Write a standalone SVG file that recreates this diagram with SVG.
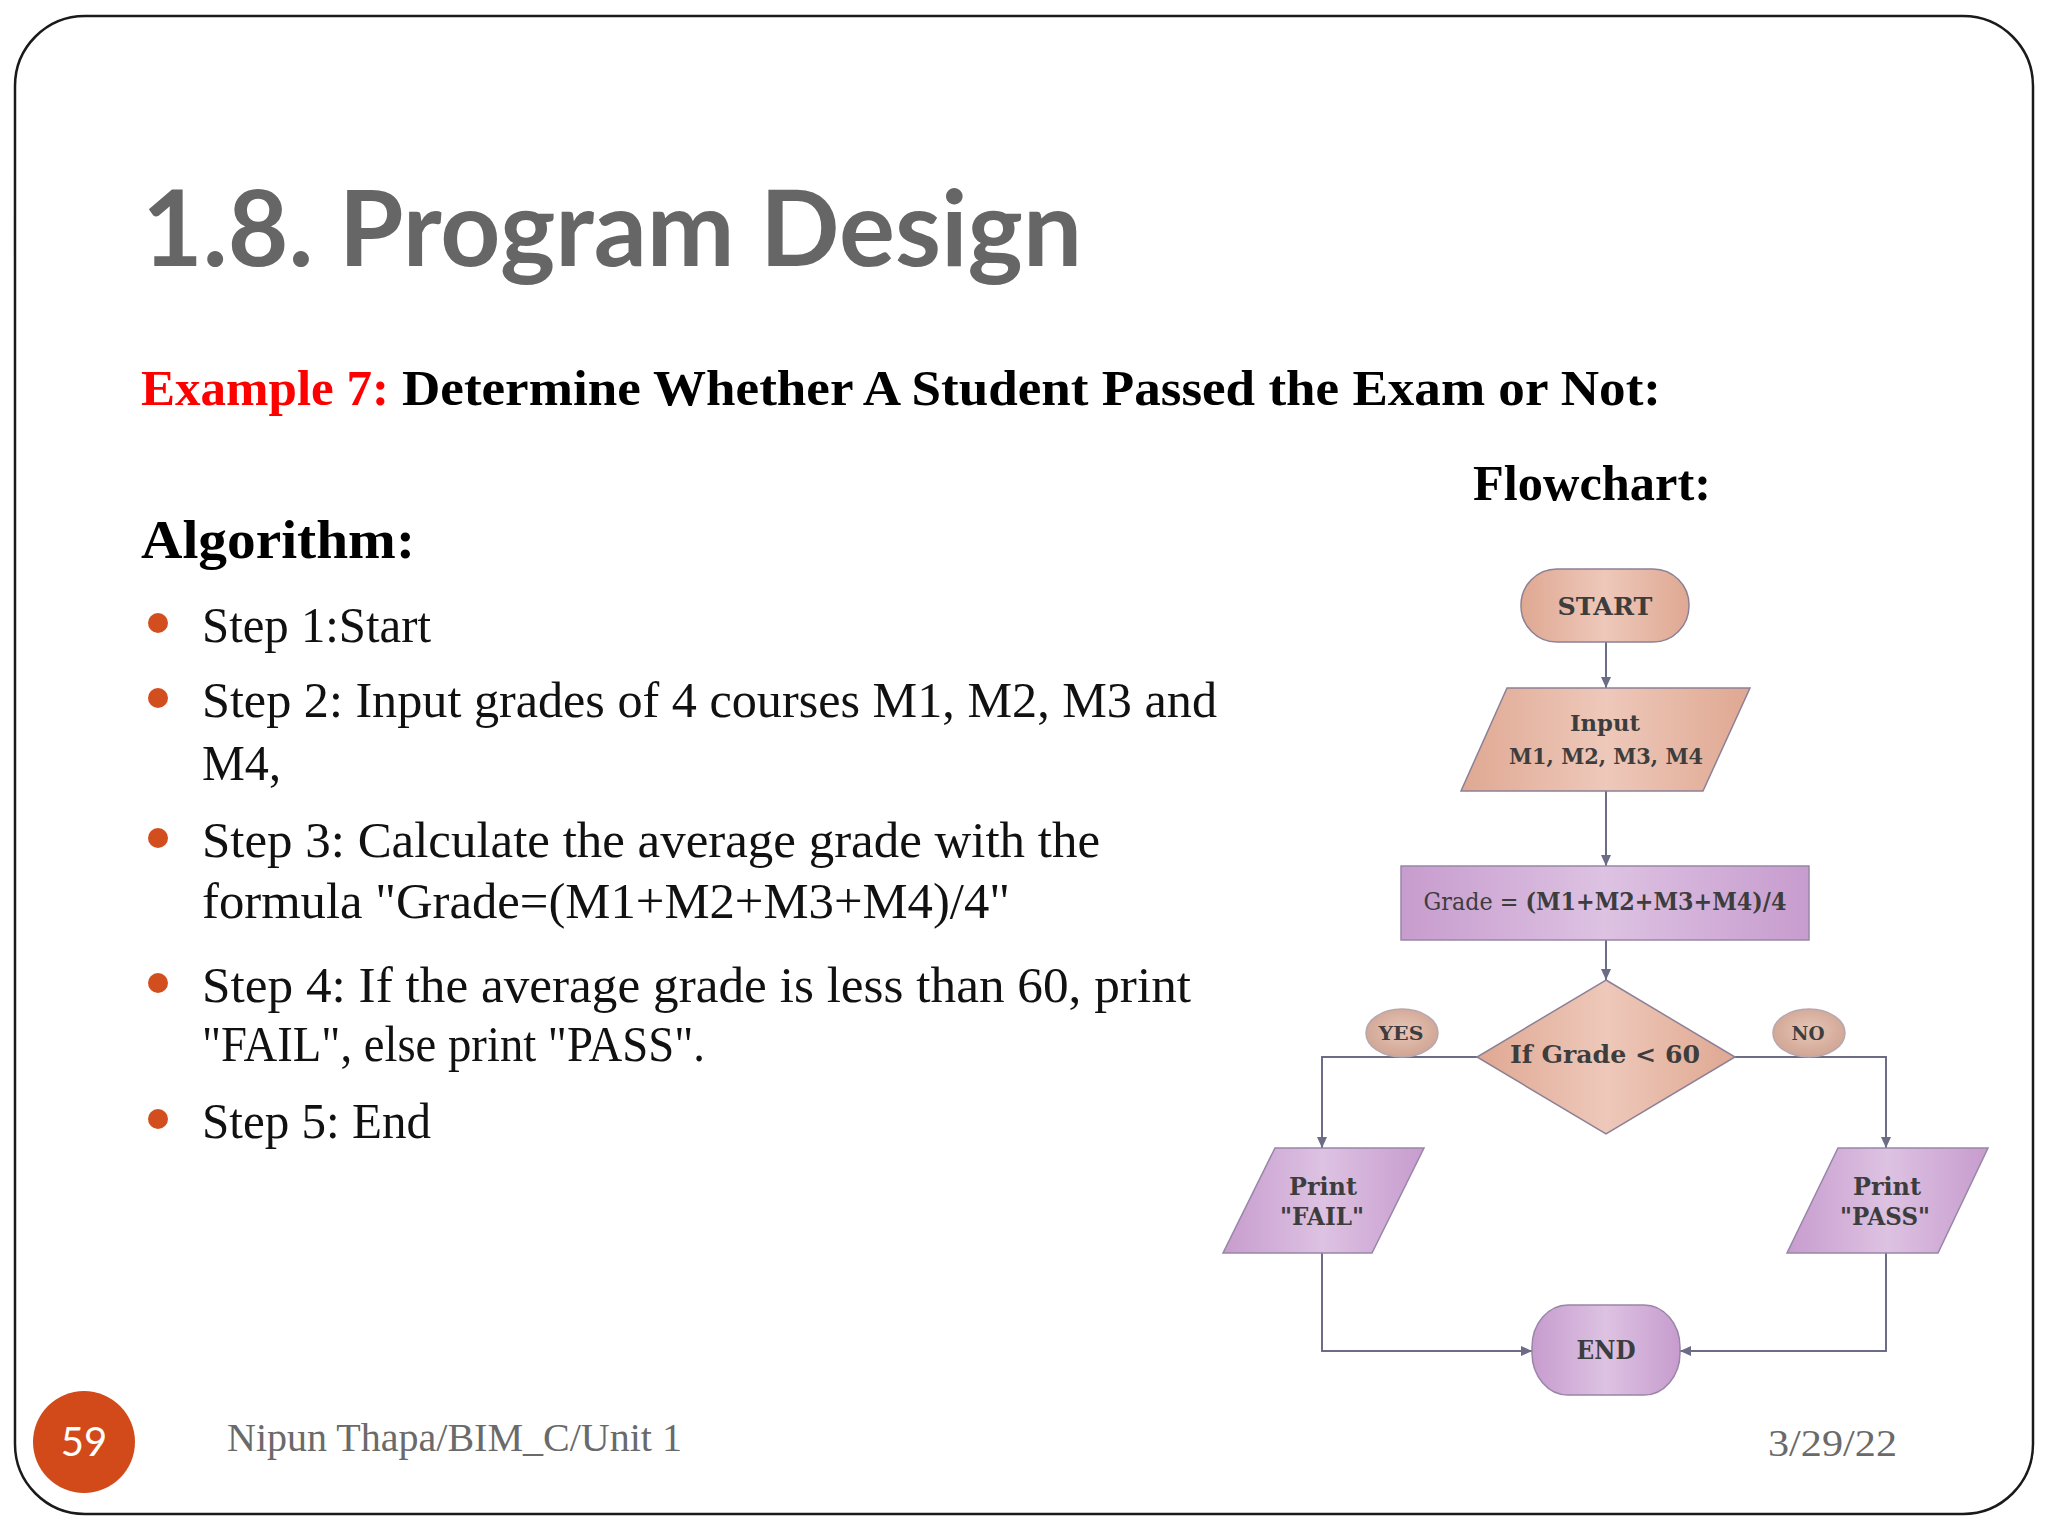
<svg xmlns="http://www.w3.org/2000/svg" width="2048" height="1536" viewBox="0 0 2048 1536">
<defs>
<linearGradient id="peach" x1="0" y1="0" x2="1" y2="0">
<stop offset="0" stop-color="#DFA892"/>
<stop offset="0.5" stop-color="#EEC8BA"/>
<stop offset="1" stop-color="#DFA892"/>
</linearGradient>
<linearGradient id="purple" x1="0" y1="0" x2="1" y2="0">
<stop offset="0" stop-color="#C79CCE"/>
<stop offset="0.5" stop-color="#DDC2E2"/>
<stop offset="1" stop-color="#C79CCE"/>
</linearGradient>
<radialGradient id="bubble" cx="0.5" cy="0.45" r="0.6">
<stop offset="0" stop-color="#E6C6B8"/>
<stop offset="1" stop-color="#CFA290"/>
</radialGradient>
<marker id="arr" markerWidth="12" markerHeight="10" refX="11" refY="5" orient="auto" markerUnits="userSpaceOnUse">
<path d="M0,0 L11,5 L0,10 Z" fill="#6C6C86"/>
</marker>
<style>
.title{font-family:Lato,"Open Sans",sans-serif;font-weight:bold;font-size:105px;fill:#666666}
.head{font-family:"Liberation Serif","DejaVu Serif",serif;font-weight:bold;fill:#000}
.body{font-family:"Liberation Serif","DejaVu Serif",serif;font-size:50px;fill:#111}
.foot{font-family:"Liberation Serif","DejaVu Serif",serif;fill:#6a6a6a}
.bul{fill:#D24E1F}
.fc{font-family:"DejaVu Serif",serif;font-weight:bold;fill:#3d3d3d;text-anchor:middle}
.pe{fill:url(#peach);stroke:#8C8096;stroke-width:1.5}
.pu{fill:url(#purple);stroke:#9886A8;stroke-width:1.5}
.bb{fill:url(#bubble);stroke:#B7A7B0;stroke-width:1.5}
.cn{fill:none;stroke:#6C6C86;stroke-width:2}
</style>
</defs>
<rect x="0" y="0" width="2048" height="1536" fill="#ffffff"/>
<rect x="15" y="16" width="2018" height="1498" rx="70" ry="70" fill="none" stroke="#1a1a1a" stroke-width="2.5"/>

<text class="title" x="142" y="266" textLength="940" lengthAdjust="spacingAndGlyphs">1.8. Program Design</text>
<text class="head" x="141" y="405" font-size="50" style="fill:#FF0000" textLength="248" lengthAdjust="spacingAndGlyphs">Example 7:</text>
<text class="head" x="402" y="405" font-size="50" textLength="1259" lengthAdjust="spacingAndGlyphs">Determine Whether A Student Passed the Exam or Not:</text>
<text class="head" x="1473" y="500" font-size="51" textLength="238" lengthAdjust="spacingAndGlyphs">Flowchart:</text>
<text class="head" x="141" y="558" font-size="55" textLength="274" lengthAdjust="spacingAndGlyphs">Algorithm:</text>

<g id="algorithm">
<circle class="bul" cx="158" cy="623" r="10"/>
<text class="body" x="202" y="642" textLength="229" lengthAdjust="spacingAndGlyphs">Step 1:Start</text>
<circle class="bul" cx="158" cy="698" r="10"/>
<text class="body" x="202" y="717" textLength="1015" lengthAdjust="spacingAndGlyphs">Step 2: Input grades of 4 courses M1, M2, M3 and</text>
<text class="body" x="202" y="780" textLength="79" lengthAdjust="spacingAndGlyphs">M4,</text>
<circle class="bul" cx="158" cy="838" r="10"/>
<text class="body" x="202" y="857" textLength="898" lengthAdjust="spacingAndGlyphs">Step 3: Calculate the average grade with the</text>
<text class="body" x="202" y="918" textLength="808" lengthAdjust="spacingAndGlyphs">formula "Grade=(M1+M2+M3+M4)/4"</text>
<circle class="bul" cx="158" cy="983" r="10"/>
<text class="body" x="202" y="1002" textLength="989" lengthAdjust="spacingAndGlyphs">Step 4: If the average grade is less than 60, print</text>
<text class="body" x="202" y="1061" textLength="503" lengthAdjust="spacingAndGlyphs">"FAIL", else print "PASS".</text>
<circle class="bul" cx="158" cy="1119" r="10"/>
<text class="body" x="202" y="1138" textLength="229" lengthAdjust="spacingAndGlyphs">Step 5: End</text>
</g>

<g id="connectors">
<path class="cn" d="M1606,642 V688" marker-end="url(#arr)"/>
<path class="cn" d="M1606,791 V866" marker-end="url(#arr)"/>
<path class="cn" d="M1606,940 V980" marker-end="url(#arr)"/>
<path class="cn" d="M1477,1057 H1322 V1148" marker-end="url(#arr)"/>
<path class="cn" d="M1735,1057 H1886 V1148" marker-end="url(#arr)"/>
<path class="cn" d="M1322,1253 V1351 H1532" marker-end="url(#arr)"/>
<path class="cn" d="M1886,1253 V1351 H1680" marker-end="url(#arr)"/>
</g>

<g id="start">
<rect class="pe" x="1521" y="569" width="168" height="73" rx="36" ry="36"/>
<text class="fc" x="1605" y="615" font-size="25" textLength="95" lengthAdjust="spacingAndGlyphs">START</text>
</g>
<g id="input">
<polygon class="pe" points="1507,688 1750,688 1703,791 1461,791"/>
<text class="fc" x="1605" y="731" font-size="23" textLength="70" lengthAdjust="spacingAndGlyphs">Input</text>
<text class="fc" x="1606" y="764" font-size="22" textLength="194" lengthAdjust="spacingAndGlyphs">M1, M2, M3, M4</text>
</g>
<g id="grade">
<rect class="pu" x="1401" y="866" width="408" height="74"/>
<text class="fc" x="1605" y="910" font-size="24" textLength="363" lengthAdjust="spacingAndGlyphs"><tspan font-weight="normal">Grade = </tspan>(M1+M2+M3+M4)/4</text>
</g>
<g id="decision">
<polygon class="pe" points="1606,980 1735,1057 1606,1134 1477,1057"/>
<text class="fc" x="1605" y="1063" font-size="24" textLength="190" lengthAdjust="spacingAndGlyphs">If Grade  &lt; 60</text>
</g>
<g id="yes">
<ellipse class="bb" cx="1402" cy="1033" rx="36" ry="24"/>
<text class="fc" x="1401" y="1040" font-size="19" textLength="45" lengthAdjust="spacingAndGlyphs">YES</text>
</g>
<g id="no">
<ellipse class="bb" cx="1809" cy="1033" rx="36" ry="24"/>
<text class="fc" x="1808" y="1040" font-size="19" textLength="33" lengthAdjust="spacingAndGlyphs">NO</text>
</g>
<g id="fail">
<polygon class="pu" points="1275,1148 1424,1148 1372,1253 1223,1253"/>
<text class="fc" x="1323" y="1195" font-size="25" textLength="68" lengthAdjust="spacingAndGlyphs">Print</text>
<text class="fc" x="1322" y="1225" font-size="25" textLength="84" lengthAdjust="spacingAndGlyphs">"FAIL"</text>
</g>
<g id="pass">
<polygon class="pu" points="1838,1148 1988,1148 1938,1253 1787,1253"/>
<text class="fc" x="1887" y="1195" font-size="25" textLength="68" lengthAdjust="spacingAndGlyphs">Print</text>
<text class="fc" x="1885" y="1225" font-size="25" textLength="90" lengthAdjust="spacingAndGlyphs">"PASS"</text>
</g>
<g id="end">
<rect class="pu" x="1532" y="1305" width="148" height="90" rx="36" ry="42"/>
<text class="fc" x="1606" y="1359" font-size="26" textLength="59" lengthAdjust="spacingAndGlyphs">END</text>
</g>

<g id="footer">
<circle cx="84" cy="1442" r="51" fill="#D24A1A"/>
<text x="84" y="1456" font-family="Lato, 'Open Sans', sans-serif" font-size="40" fill="#ffffff" text-anchor="middle">59</text>
<text class="foot" x="227" y="1451" font-size="41" textLength="455" lengthAdjust="spacingAndGlyphs">Nipun Thapa/BIM_C/Unit 1</text>
<text class="foot" x="1768" y="1456" font-size="38" textLength="129" lengthAdjust="spacingAndGlyphs">3/29/22</text>
</g>
</svg>
